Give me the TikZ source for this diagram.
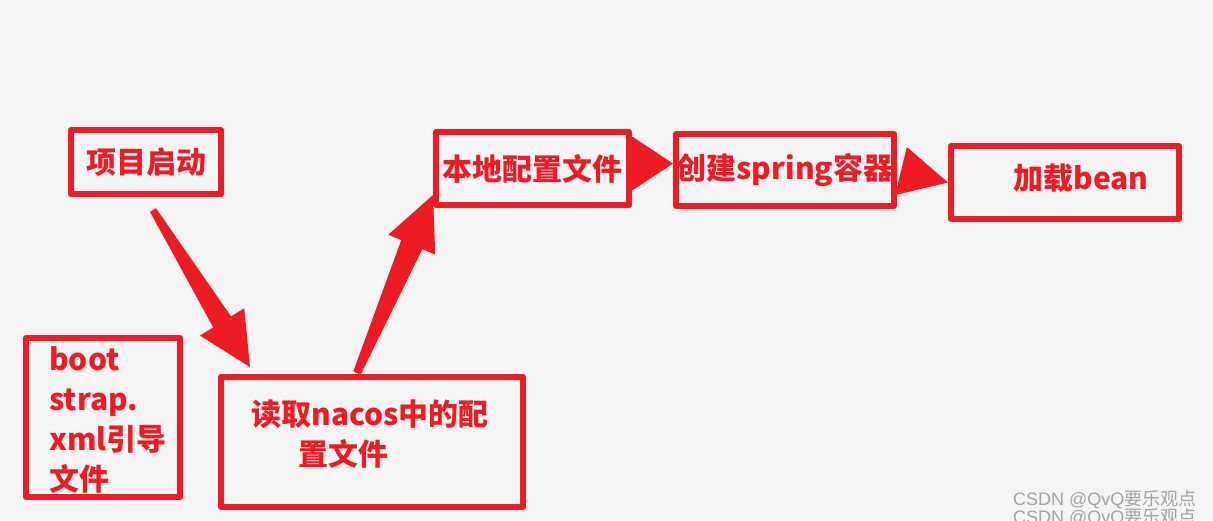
\documentclass[tikz,border=0pt]{standalone}
\usepackage{fontspec}
\newfontfamily\cjk{Noto Sans CJK SC}
\newfontfamily\wmlatin{Liberation Sans}
\usetikzlibrary{calc}

\definecolor{paintred}{HTML}{ED1C24}
\definecolor{bggray}{HTML}{F4F4F4}
\definecolor{wmgray}{HTML}{A5A5A5}

\tikzset{
  redbox/.style={draw=paintred, line width=6pt, line join=round, outer sep=0pt, inner sep=0pt},
  redtext/.style={text=paintred, inner sep=0pt, font=\cjk\bfseries\fontsize{30}{40}\selectfont},
  marktext/.style={anchor=west, inner sep=0pt, text=wmgray, font=\fontsize{18}{18}\selectfont},
}

% #1 tail, #2 tip, #3 tail half width, #4 neck half width, #5 head length, #6 barb half width
\newcommand{\fatarrow}[6]{%
  \coordinate (fa-neck) at ($(#2)!#5!(#1)$);
  \fill[paintred] ($(#1)!#3!90:(#2)$) -- ($(fa-neck)!#4!90:(#2)$) -- ($(fa-neck)!#6!90:(#2)$)
    -- (#2) -- ($(fa-neck)!#6!-90:(#2)$) -- ($(fa-neck)!#4!-90:(#2)$) -- ($(#1)!#3!-90:(#2)$) -- cycle;
}

\begin{document}
\begin{tikzpicture}[x=1pt, y=-1pt]
  \fill[bggray] (0,0) rectangle (1213,520);
  \useasboundingbox (0,0) rectangle (1213,520);

  % boxes
  \node[redbox, redtext, minimum width=150pt, minimum height=64pt] (start) at (146,162) {项目启动};
  \node[redbox, minimum width=154pt, minimum height=159pt] (boot) at (103,417.5) {};
  \node[redbox, minimum width=302pt, minimum height=130pt] (nacos) at (372,442) {};
  \node[redbox, redtext, minimum width=193pt, minimum height=73pt] (local) at (532.5,168.5) {本地配置文件};
  \node[redbox, redtext, minimum width=218pt, minimum height=72pt] (spring) at (785,170) {创建spring容器};
  \node[redbox, minimum width=228pt, minimum height=73pt] (bean) at (1065,182.5) {};

  % texts
  \node[redtext, align=left, anchor=west] (boottext) at ($(boot.west)+(23,2)$)
    {boot\\strap.\\xml引导\\文件};
  \node[redtext, align=left] (nacostext) at ($(nacos.center)+(-2,-8)$)
    {读取nacos中的配\\\hspace*{47pt}置文件};
  \node[redtext] (beantext) at ($(bean.center)+(16,-4)$) {加载bean};

  % arrows
  \coordinate (a1s) at ($(start.south)+(7,16)$);
  \coordinate (a1t) at ($(nacos.north west)+(29,-10)$);
  \fatarrow{a1s}{a1t}{3.5pt}{10.5pt}{53pt}{26pt}
  \coordinate (a2s) at ($(nacos.north)+(-15,-4)$);
  \coordinate (a2t) at ($(local.south west)+(-3,-10)$);
  \fatarrow{a2s}{a2t}{4pt}{11.5pt}{54pt}{25.5pt}
  \coordinate (a3s) at ($(local.east)+(1,-5)$);
  \coordinate (a3t) at ($(spring.west)+(-3,-6.5)$);
  \fatarrow{a3s}{a3t}{26.5pt}{26.5pt}{40pt}{26.5pt}
  \coordinate (a4s) at ($(spring.east)+(7,1)$);
  \coordinate (a4t) at ($(bean.west)+(-3,0)$);
  \fatarrow{a4s}{a4t}{24pt}{24pt}{47pt}{24pt}

  % watermark
  \node[marktext] (mark1) at (1013,500) {\wmlatin CSDN @QvQ\cjk 要乐观点};
  \node[marktext] (mark2) at (1013,518) {\wmlatin CSDN @QvQ\cjk 要乐观点};
\end{tikzpicture}
\end{document}
